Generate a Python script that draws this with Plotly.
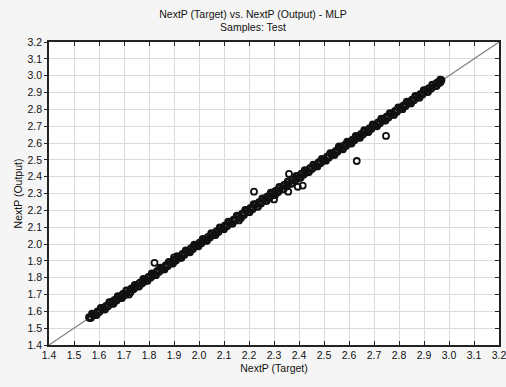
import plotly.graph_objects as go

# Main cloud of test samples (target, output) - set A
target = [1.560,1.568,1.577,1.585,1.594,1.602,1.611,1.619,1.628,1.636,1.645,1.653,1.662,1.670,1.679,1.687,
          1.696,1.704,1.713,1.721,1.730,1.738,1.747,1.755,1.764,1.772,1.781,1.789,1.798,1.806,1.815,1.823,
          1.832,1.840,1.849,1.857,1.866,1.874,1.883,1.891,1.900,1.908,1.917,1.925,1.934,1.942,1.951,1.959,
          1.968,1.976,1.985,1.993,2.002,2.010,2.019,2.027,2.036,2.044,2.053,2.061,2.070,2.078,2.087,2.095,
          2.104,2.112,2.121,2.129,2.138,2.146,2.155,2.163,2.172,2.180,2.189,2.197,2.206,2.214,2.223,2.231,
          2.240,2.248,2.257,2.265,2.274,2.282,2.291,2.299,2.308,2.316,2.325,2.333,2.342,2.350,2.359,2.367,
          2.376,2.384,2.393,2.401,2.410,2.418,2.427,2.435,2.444,2.452,2.461,2.469,2.478,2.486,2.495,2.503,
          2.512,2.520,2.529,2.537,2.546,2.554,2.563,2.571,2.580,2.588,2.597,2.605,2.614,2.622,2.631,2.639,
          2.648,2.656,2.665,2.673,2.682,2.690,2.699,2.707,2.716,2.724,2.733,2.741,2.750,2.758,2.767,2.775,
          2.784,2.792,2.801,2.809,2.818,2.826,2.835,2.843,2.852,2.860,2.869,2.877,2.886,2.894,2.903,2.911,
          2.920,2.928,2.937,2.945,2.954,2.962,2.970]
output = [1.565,1.562,1.580,1.578,1.600,1.597,1.618,1.612,1.633,1.630,1.652,1.646,1.668,1.664,1.684,1.680,
          1.703,1.697,1.722,1.713,1.736,1.731,1.752,1.749,1.771,1.765,1.786,1.782,1.805,1.800,1.821,1.816,
          1.838,1.834,1.856,1.850,1.872,1.868,1.890,1.885,1.906,1.902,1.923,1.918,1.941,1.936,1.957,1.952,
          1.975,1.970,1.991,1.987,2.008,2.004,2.026,2.020,2.042,2.038,2.060,2.054,2.076,2.072,2.094,2.088,
          2.110,2.106,2.128,2.122,2.144,2.140,2.163,2.156,2.180,2.172,2.197,2.189,2.215,2.206,2.232,2.222,
          2.249,2.240,2.265,2.257,2.283,2.274,2.300,2.290,2.317,2.307,2.334,2.325,2.352,2.341,2.368,2.358,
          2.384,2.377,2.401,2.394,2.418,2.411,2.434,2.428,2.451,2.446,2.468,2.462,2.485,2.480,2.501,2.497,
          2.519,2.514,2.536,2.530,2.552,2.548,2.570,2.564,2.586,2.582,2.604,2.598,2.620,2.616,2.638,2.632,
          2.654,2.650,2.672,2.666,2.688,2.684,2.706,2.700,2.722,2.718,2.740,2.734,2.756,2.752,2.774,2.768,
          2.790,2.786,2.808,2.802,2.824,2.820,2.842,2.836,2.858,2.854,2.876,2.870,2.892,2.888,2.910,2.904,
          2.926,2.922,2.944,2.938,2.960,2.956,2.974]

# set B (wider spread)
target_b = [1.572,1.590,1.607,1.624,1.641,1.658,1.675,1.692,1.709,1.726,1.743,1.760,1.777,1.794,1.811,1.828,
            1.845,1.862,1.879,1.896,1.913,1.930,1.947,1.964,1.981,1.998,2.015,2.032,2.049,2.066,2.083,2.100,
            2.117,2.134,2.151,2.168,2.185,2.202,2.219,2.236,2.253,2.270,2.287,2.304,2.321,2.338,2.355,2.372,
            2.389,2.406,2.423,2.440,2.457,2.474,2.491,2.508,2.525,2.542,2.559,2.576,2.593,2.610,2.627,2.644,
            2.661,2.678,2.695,2.712,2.729,2.746,2.763,2.780,2.797,2.814,2.831,2.848,2.865,2.882,2.899,2.916,
            2.933,2.950,2.965]
output_b = [1.586,1.578,1.621,1.611,1.655,1.645,1.690,1.679,1.724,1.714,1.757,1.747,1.792,1.781,1.826,1.815,
            1.860,1.849,1.894,1.884,1.928,1.918,1.962,1.951,1.996,1.986,2.030,2.019,2.065,2.053,2.099,2.087,
            2.133,2.121,2.168,2.155,2.203,2.189,2.237,2.222,2.271,2.256,2.305,2.290,2.339,2.324,2.372,2.359,
            2.405,2.393,2.439,2.427,2.472,2.461,2.506,2.495,2.540,2.529,2.574,2.563,2.608,2.597,2.642,2.631,
            2.676,2.665,2.710,2.699,2.744,2.733,2.778,2.767,2.812,2.801,2.846,2.835,2.880,2.869,2.914,2.903,
            2.947,2.938,2.976]

# set C (close to the diagonal)
target_c = [1.563,1.581,1.599,1.617,1.635,1.653,1.671,1.689,1.707,1.725,1.743,1.761,1.779,1.797,1.815,1.833,
            1.851,1.869,1.887,1.905,1.923,1.941,1.959,1.977,1.995,2.013,2.031,2.049,2.067,2.085,2.103,2.121,
            2.139,2.157,2.175,2.193,2.211,2.229,2.247,2.265,2.283,2.301,2.319,2.337,2.355,2.373,2.391,2.409,
            2.427,2.445,2.463,2.481,2.499,2.517,2.535,2.553,2.571,2.589,2.607,2.625,2.643,2.661,2.679,2.697,
            2.715,2.733,2.751,2.769,2.787,2.805,2.823,2.841,2.859,2.877,2.895,2.913,2.931,2.949,2.967]
output_c = [1.560,1.584,1.595,1.621,1.632,1.657,1.668,1.693,1.704,1.729,1.740,1.766,1.776,1.802,1.812,1.838,
            1.848,1.874,1.884,1.910,1.920,1.946,1.956,1.982,1.992,2.018,2.028,2.054,2.064,2.091,2.101,2.127,
            2.137,2.164,2.173,2.201,2.209,2.237,2.245,2.273,2.281,2.309,2.317,2.345,2.353,2.380,2.388,2.415,
            2.424,2.450,2.460,2.486,2.496,2.522,2.532,2.558,2.568,2.594,2.604,2.630,2.640,2.666,2.676,2.702,
            2.712,2.738,2.748,2.774,2.784,2.810,2.820,2.846,2.856,2.882,2.892,2.918,2.928,2.954,2.964]

# Outlying samples
outlier_target = [2.220, 2.360, 2.357, 2.395, 2.415, 2.631, 2.748, 1.822, 1.900, 1.720, 2.160, 2.300, 2.560]
outlier_output = [2.311, 2.416, 2.311, 2.340, 2.347, 2.493, 2.642, 1.888, 1.920, 1.700, 2.140, 2.265, 2.580]

# Reference diagonal
diag = [1.4, 3.2]

marker = dict(symbol="circle-open", size=6, color="#111111", line=dict(width=1.8, color="#111111"))

fig = go.Figure()
fig.add_trace(go.Scatter(x=diag, y=diag, mode="lines", line=dict(color="#808080", width=1.2),
                         hoverinfo="skip", showlegend=False))
for xs, ys in [(target, output), (target_b, output_b), (target_c, output_c),
               (outlier_target, outlier_output)]:
    fig.add_trace(go.Scatter(x=xs, y=ys, mode="markers", marker=marker, showlegend=False))
# invisible trace to anchor right-hand axis
fig.add_trace(go.Scatter(x=diag, y=diag, mode="markers", marker=dict(opacity=0), yaxis="y2",
                         hoverinfo="skip", showlegend=False))

fam = "Liberation Sans, Arial, sans-serif"
common = dict(range=[1.4, 3.2], tick0=1.4, dtick=0.1, tickformat=".1f", showgrid=True,
              gridcolor="#dcdcdc", gridwidth=1, zeroline=False, showline=True, linecolor="#222222",
              linewidth=1.5, tickcolor="#222222", tickfont=dict(family=fam, size=10.5),
              fixedrange=True, automargin=False)
fig.update_layout(
    width=506, height=387,
    margin=dict(l=49, r=7, t=42, b=42),
    paper_bgcolor="#f5f5f5", plot_bgcolor="#ffffff",
    font=dict(family=fam, size=10.5, color="#111111"),
    title=dict(text="NextP (Target) vs. NextP (Output) - MLP<br>Samples: Test",
               x=0.5, xanchor="center", y=0.954, yanchor="top",
               font=dict(family=fam, size=10.5, color="#111111")),
    xaxis=dict(**common, mirror="ticks", ticks="inside", ticklen=4, ticklabeloverflow="allow",
               title=dict(text="NextP (Target)", standoff=4, font=dict(family=fam, size=10.5))),
    yaxis=dict(**common, mirror=True, ticks="outside", ticklen=3,
               title=dict(text="NextP (Output)", standoff=3, font=dict(family=fam, size=10.5))),
    yaxis2=dict(range=[1.4, 3.2], tick0=1.4, dtick=0.1, overlaying="y", side="right", showgrid=False,
                zeroline=False, showline=False, ticks="inside", ticklen=4, tickcolor="#222222",
                showticklabels=False, fixedrange=True, automargin=False),
)

fig.write_html("out.html", config={"displayModeBar": False},
               post_script="document.body.style.margin='0';")
